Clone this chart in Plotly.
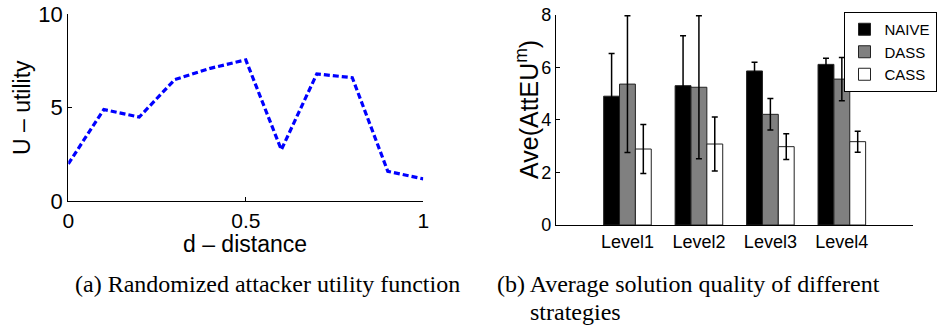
import plotly.graph_objects as go

# ---- data: panel (a) ----
distance = [0.0, 0.1, 0.2, 0.3, 0.4, 0.5, 0.6, 0.7, 0.8, 0.9, 1.0]
utility = [2.0, 4.9, 4.5, 6.5, 7.1, 7.55, 2.75, 6.8, 6.6, 1.6, 1.2]

# ---- data: panel (b) ----
levels = ["Level1", "Level2", "Level3", "Level4"]
naive = [4.9, 5.3, 5.86, 6.11]
naive_err = [1.62, 1.9, 0.33, 0.23]
dass = [5.36, 5.24, 4.21, 5.55]
dass_err = [2.6, 2.72, 0.6, 0.82]
cass = [2.89, 3.08, 2.98, 3.17]
cass_err = [0.93, 1.03, 0.49, 0.4]

W, H = 938, 329
SANS = "Liberation Sans, Arial, sans-serif"
SERIF = "Liberation Serif, Times New Roman, serif"

fig = go.Figure()

fig.add_trace(go.Scatter(
    x=distance, y=utility, mode="lines",
    line=dict(color="#0000ff", width=3.2, dash="6px,3px"),
    showlegend=False, xaxis="x", yaxis="y"))

bar_line = dict(color="#222222", width=1)
err_style = dict(type="data", color="black", thickness=1.5, width=3, visible=True)
for name, vals, errs, col in [("NAIVE", naive, naive_err, "#000000"),
                              ("DASS", dass, dass_err, "#808080"),
                              ("CASS", cass, cass_err, "#ffffff")]:
    fig.add_trace(go.Bar(
        x=levels, y=vals, name=name,
        marker=dict(color=col, line=bar_line),
        error_y=dict(array=errs, **err_style),
        xaxis="x2", yaxis="y2"))

axis_common = dict(showline=True, linecolor="black", linewidth=1.2, mirror=False,
                   showgrid=False, zeroline=False, ticks="inside", ticklen=4,
                   tickcolor="black", tickwidth=1)

fig.update_layout(
    width=W, height=H,
    margin=dict(l=0, r=0, t=0, b=0, autoexpand=False),
    paper_bgcolor="white", plot_bgcolor="white",
    barmode="group", bargap=0.334, bargroupgap=0,
    xaxis=dict(domain=[68.3 / W, 423.3 / W], anchor="y", range=[0, 1],
               tickvals=[0, 0.5, 1], ticktext=["0", "0.5", "1"],
               tickfont=dict(family=SANS, size=21, color="black"),
               **axis_common),
    yaxis=dict(domain=[(H - 201.3) / H, (H - 14) / H], anchor="x", range=[0, 10],
               tickvals=[0, 5, 10],
               tickfont=dict(family=SANS, size=22, color="black"),
               **axis_common),
    xaxis2=dict(domain=[556 / W, 913.3 / W], anchor="y2", range=[-1, 4],
                type="category",
                tickfont=dict(family=SANS, size=18, color="black"),
                showline=True, linecolor="black", linewidth=1.2, showgrid=False,
                zeroline=False, ticks=""),
    yaxis2=dict(domain=[(H - 225) / H, (H - 14.7) / H], anchor="x2", range=[0, 8],
                tickvals=[0, 2, 4, 6, 8],
                tickfont=dict(family=SANS, size=18, color="black"),
                **axis_common),
    legend=dict(x=936.5 / W, y=(H - 12) / H, xanchor="right", yanchor="top",
                bgcolor="white", bordercolor="black", borderwidth=1,
                font=dict(family=SANS, size=15, color="black"),
                tracegroupgap=0, itemclick=False, itemwidth=30),
    showlegend=True,
)

# axis titles for panel (a)
fig.add_annotation(text="d \u2013 distance",
                   x=245 / W, y=(H - 244) / H, xref="paper", yref="paper",
                   xanchor="center", yanchor="middle", showarrow=False,
                   font=dict(family=SANS, size=23, color="black"))
fig.add_annotation(text="U \u2013 utility",
                   x=22 / W, y=(H - 108) / H, xref="paper", yref="paper",
                   xanchor="center", yanchor="middle", textangle=-90, showarrow=False,
                   font=dict(family=SANS, size=23, color="black"))

# y-axis title for panel (b)
fig.add_annotation(text="Ave(AttEU<sup>m</sup>)",
                   x=527 / W, y=(H - 110) / H, xref="paper", yref="paper",
                   xanchor="center", yanchor="middle", textangle=-90, showarrow=False,
                   font=dict(family=SANS, size=25, color="black"))

fig.add_annotation(text="(a) Randomized attacker utility function",
                   x=73 / W, y=(H - 284) / H, xref="paper", yref="paper",
                   xanchor="left", yanchor="middle", showarrow=False,
                   font=dict(family=SERIF, size=24, color="black"))
fig.add_annotation(text="(b) Average solution quality of different",
                   x=495 / W, y=(H - 284) / H, xref="paper", yref="paper",
                   xanchor="left", yanchor="middle", showarrow=False,
                   font=dict(family=SERIF, size=24, color="black"))
fig.add_annotation(text="strategies",
                   x=528 / W, y=(H - 312) / H, xref="paper", yref="paper",
                   xanchor="left", yanchor="middle", showarrow=False,
                   font=dict(family=SERIF, size=24, color="black"))

fig.write_html("out.html")
